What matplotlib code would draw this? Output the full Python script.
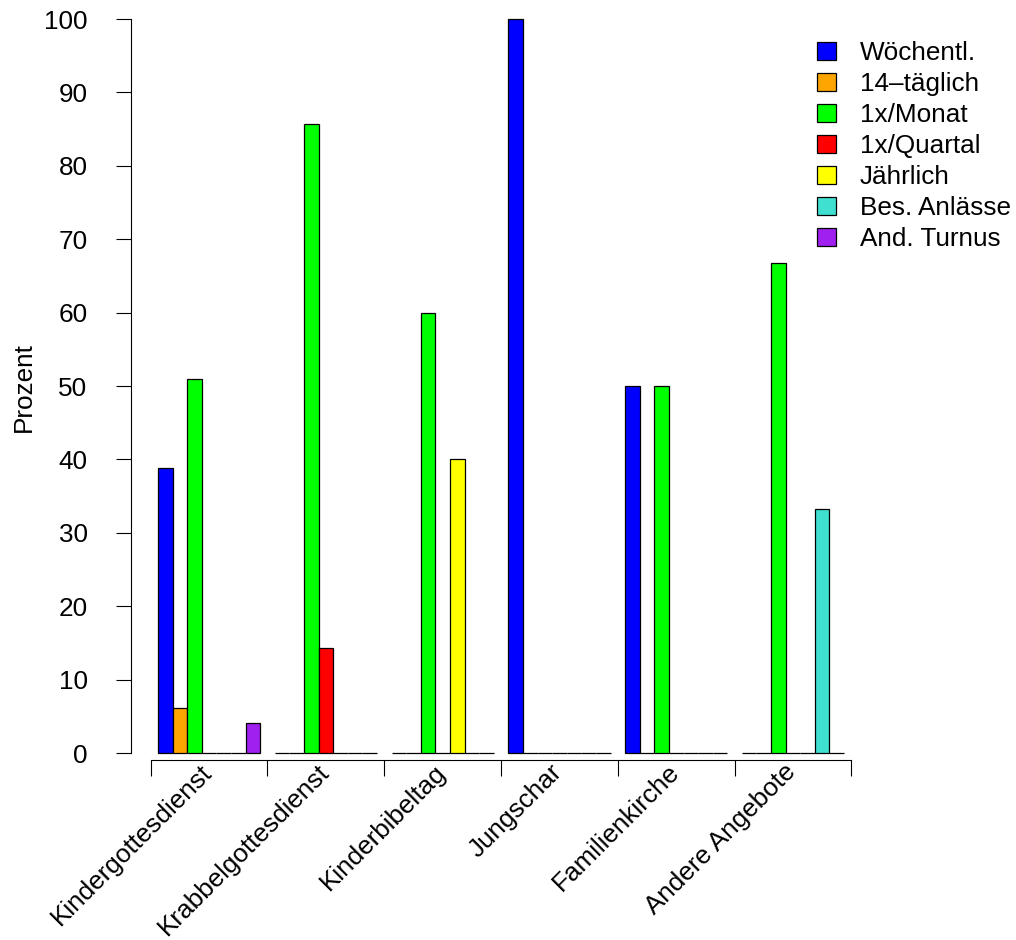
import numpy as np
import matplotlib
matplotlib.use("Agg")
import matplotlib.pyplot as plt
from matplotlib.patches import Patch

plt.rcParams['font.family'] = ['Liberation Sans', 'DejaVu Sans']

angebote = ['Kindergottesdienst', 'Krabbelgottesdienst', 'Kinderbibeltag',
            'Jungschar', 'Familienkirche', 'Andere Angebote']
turnus = ['Wöchentl.', '14\u2013täglich', '1x/Monat', '1x/Quartal',
          'Jährlich', 'Bes. Anlässe', 'And. Turnus']
farben = ['#0000FF', '#FFA500', '#00FF00', '#FF0000', '#FFFF00', '#40E0D0', '#A020F0']

# Prozent je Angebot (Zeilen) und Turnus (Spalten)
prozent = np.array([
    [38.8, 6.1, 51.0, 0.0, 0.0, 0.0, 4.1],
    [0.0, 0.0, 85.7, 14.3, 0.0, 0.0, 0.0],
    [0.0, 0.0, 60.0, 0.0, 40.0, 0.0, 0.0],
    [100.0, 0.0, 0.0, 0.0, 0.0, 0.0, 0.0],
    [50.0, 0.0, 50.0, 0.0, 0.0, 0.0, 0.0],
    [0.0, 0.0, 66.7, 0.0, 0.0, 33.3, 0.0],
])

fs = 18.8

fig = plt.figure(figsize=(10.16, 9.40), dpi=100)
ax = fig.add_axes([0.1285, 0.1677, 0.7293, 0.8323])

n_t = len(turnus)
for g in range(len(angebote)):
    x = 1 + g * (n_t + 1) + np.arange(n_t)
    ax.bar(x, prozent[g], width=1, align='edge', color=farben,
           edgecolor='black', linewidth=0.9)

ax.set_xlim(-0.88, 49.88)
ax.set_ylim(-4, 102.6)

for s in ['top', 'right']:
    ax.spines[s].set_visible(False)
ax.spines['left'].set_bounds(0, 100)
ax.spines['bottom'].set_bounds(0.5, 48.5)
ax.spines['bottom'].set_position(('data', -0.95))

ax.set_yticks(np.arange(0, 101, 10))
ax.tick_params(axis='y', labelsize=fs, length=11, width=0.8, pad=20)
ax.set_xticks(np.arange(0.5, 49, 8))
ax.set_xticklabels([])
ax.tick_params(axis='x', length=11.5, width=0.8)

mitten = 1 + np.arange(len(angebote)) * (n_t + 1) + n_t / 2
for m, lab in zip(mitten, angebote):
    ax.text(m - 0.05, -2.1, lab, rotation=45, ha='right', va='center',
            rotation_mode='anchor', fontsize=fs, clip_on=False)

fig.text(24 / 1016, 1 - 387 / 940, 'Prozent', rotation=90, ha='center', va='center',
         fontsize=fs)

handles = [Patch(facecolor=c, edgecolor='black', linewidth=0.9) for c in farben]
fig.legend(handles, turnus, loc='upper left', bbox_to_anchor=(817 / 1016, 1 - 41 / 940),
           frameon=False, fontsize=fs, handlelength=0.71, handleheight=0.71,
           handletextpad=0.92, labelspacing=0.27, borderaxespad=0, borderpad=0)

fig.savefig('out.png', dpi=100)
